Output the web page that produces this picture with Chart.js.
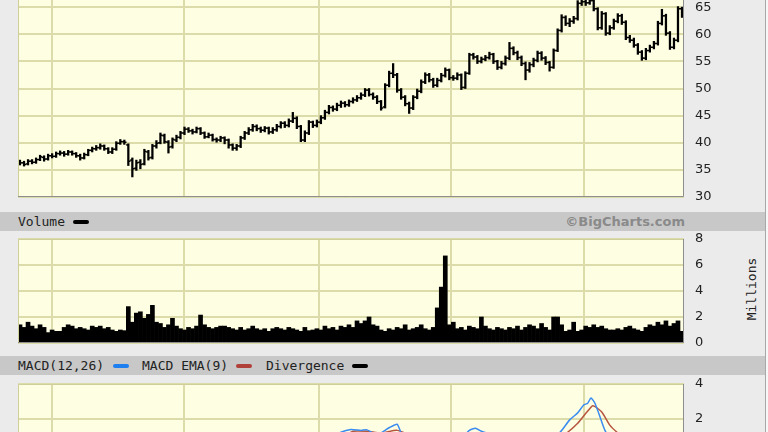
<!DOCTYPE html>
<html>
<head>
<meta charset="utf-8">
<script src="https://cdn.jsdelivr.net/npm/chart.js@4.4.1/dist/chart.umd.min.js"></script>
<style>
  html, body { margin: 0; padding: 0; }
  body { width: 768px; height: 432px; overflow: hidden; position: relative; background: #ebebeb;
         font-family: "DejaVu Sans Mono", monospace; font-size: 13px; color: #222; }
  canvas { position: absolute; left: 0; }
  .band { position: absolute; left: 0; width: 765px; height: 19px; background: #c8c8c8; }
  .lbl { position: absolute; line-height: 19px; white-space: nowrap; }
  .sw { position: absolute; width: 16px; height: 4px; border-radius: 2px; }
  #edge { position: absolute; left: 765px; top: 0; width: 1px; height: 432px; background: #a8a8a8; }
  #edge2 { position: absolute; left: 766px; top: 0; width: 2px; height: 432px; background: #f7f7f7; }
  #brand { position: absolute; right: 83px; top: 212px; line-height: 19px; font-family: "DejaVu Sans", sans-serif;
           font-weight: bold; color: #8a8a8a; }
  #millions { position: absolute; left: 712px; top: 280px; width: 80px; text-align: center;
              transform: rotate(-90deg); line-height: 18px; }
</style>
</head>
<body>
<div class="band" style="top:212px"></div>
<div class="lbl" style="left:18px;top:212px">Volume</div>
<div class="sw" style="left:73px;top:220px;background:#000"></div>
<div id="brand">©BigCharts.com</div>

<div class="band" style="top:356px"></div>
<div class="lbl" style="left:18px;top:356px">MACD(12,26)</div>
<div class="sw" style="left:113px;top:364px;background:#1e7ff0"></div>
<div class="lbl" style="left:142px;top:356px">MACD EMA(9)</div>
<div class="sw" style="left:236px;top:364px;background:#b0403a"></div>
<div class="lbl" style="left:266px;top:356px">Divergence</div>
<div class="sw" style="left:352px;top:364px;background:#000"></div>

<div id="millions">Millions</div>
<div id="edge"></div><div id="edge2"></div>

<canvas id="priceChart" width="768" height="257" style="top:-40px"></canvas>
<canvas id="volChart" width="768" height="144" style="top:219px"></canvas>
<canvas id="macdChart" width="768" height="180" style="top:364px"></canvas>

<script>
// daily OHLC
const open = [
  36.5,36.3,36.1,36.6,36.4,36.9,37.3,37.0,37.6,37.5,
  38.0,38.1,37.9,38.3,38.0,37.6,37.2,37.8,38.6,38.9,
  39.1,39.4,38.9,38.3,38.8,39.9,40.2,39.6,36.8,35.3,
  36.4,36.1,38.3,37.3,39.4,40.0,41.3,40.1,39.3,40.5,
  41.0,41.8,42.5,42.2,42.0,42.6,41.8,41.1,41.4,40.6,
  40.5,40.9,40.5,39.6,39.0,39.4,40.9,41.8,42.4,43.0,
  42.6,42.3,42.7,42.0,42.4,43.0,43.6,43.2,44.0,44.5,
  43.0,40.5,41.8,43.8,43.2,43.8,44.6,45.6,46.5,46.2,
  46.9,47.3,47.0,47.6,47.9,48.3,48.8,49.7,48.9,48.4,
  47.6,46.6,50.6,52.8,52.5,49.7,48.4,47.2,46.4,48.4,
  49.5,51.2,52.5,51.6,50.6,51.5,52.4,53.4,52.0,51.9,
  52.5,50.2,52.8,56.2,55.8,55.0,55.4,55.7,56.3,55.0,
  53.9,54.6,55.6,57.4,56.6,55.7,54.6,53.4,54.4,55.2,
  56.5,55.6,54.8,53.9,57.0,60.7,63.1,62.0,62.4,62.9,
  65.7,66.0,65.8,66.2,64.7,61.2,63.8,60.2,61.2,62.4,
  63.4,62.2,59.4,58.9,58.0,56.7,55.6,57.0,57.6,58.3,
  62.0,63.4,60.2,57.6,58.9,64.7
];
const high = [
  36.8,36.6,36.9,36.9,37.2,37.7,37.6,37.9,38.0,38.3,
  38.5,38.4,38.6,38.5,38.2,37.9,38.1,38.8,39.2,39.5,
  39.8,39.6,39.1,39.1,40.2,40.6,40.5,39.8,37.2,36.8,
  36.9,38.8,38.6,39.7,40.4,41.8,41.6,40.4,40.9,41.4,
  42.1,42.9,42.8,42.5,42.9,42.8,42.0,41.8,41.6,40.9,
  41.2,41.1,40.7,39.8,39.7,41.2,42.1,42.8,43.4,43.3,
  42.9,43.0,42.9,42.8,43.4,43.9,43.9,44.4,45.6,44.8,
  43.2,42.2,44.1,44.0,44.2,45.0,46.0,46.9,46.8,47.3,
  47.7,47.6,47.9,48.3,48.7,49.2,50.0,50.0,49.2,48.7,
  47.8,50.9,53.2,54.6,52.8,50.0,48.7,47.5,48.7,49.9,
  51.6,52.9,52.8,51.9,51.9,52.8,53.8,53.6,52.4,52.9,
  52.7,53.1,56.5,56.5,56.1,55.8,56.1,56.7,56.5,55.2,
  55.0,56.0,58.5,57.7,56.9,56.0,54.9,54.8,55.6,56.9,
  56.8,55.9,55.0,57.3,61.0,63.6,63.4,62.9,63.3,66.2,
  66.8,66.6,66.9,66.5,64.9,64.2,64.0,61.6,62.8,63.8,
  63.7,62.5,59.8,59.3,58.3,57.0,57.4,58.0,58.7,62.4,
  64.6,63.7,60.5,59.3,65.1,65.0
];
const low = [
  35.9,35.7,35.9,36.1,36.2,36.7,36.6,36.8,37.2,37.3,
  37.7,37.5,37.7,37.7,37.3,36.8,37.0,37.6,38.3,38.6,
  38.8,38.6,38.0,38.0,38.6,39.7,39.7,35.8,33.7,34.9,
  35.2,35.9,36.8,37.0,39.0,39.8,39.9,38.1,39.0,40.2,
  40.7,41.5,41.9,41.6,41.8,41.5,40.8,40.9,40.3,40.1,
  40.2,39.8,39.0,38.6,38.6,39.1,40.6,41.5,42.1,42.2,
  41.9,42.0,41.6,41.7,42.1,42.7,42.8,42.9,43.7,42.6,
  40.2,40.2,41.5,42.8,42.9,43.5,44.3,45.3,45.8,45.9,
  46.5,46.6,46.7,47.3,47.6,48.0,48.5,48.6,48.0,47.2,
  46.0,46.4,50.3,52.0,49.3,48.0,46.8,45.4,46.1,48.1,
  49.2,50.9,51.2,50.2,50.3,51.2,52.1,51.6,51.5,51.6,
  49.8,50.0,52.6,55.4,54.6,54.7,55.1,55.4,54.6,53.5,
  53.6,54.3,55.3,56.2,55.3,54.2,51.6,53.0,54.0,54.9,
  55.2,54.4,53.2,53.7,56.8,60.4,61.6,61.4,62.0,62.6,
  65.3,65.3,65.5,64.3,60.8,60.9,59.8,59.9,60.9,62.1,
  61.8,59.0,58.5,57.6,56.3,55.2,55.3,56.7,57.3,58.0,
  61.7,59.8,57.2,57.3,58.6,63.1
];
const close = [
  36.3,36.0,36.6,36.4,36.9,37.4,37.0,37.6,37.5,38.0,
  38.1,37.9,38.3,38.0,37.6,37.2,37.8,38.6,38.9,39.1,
  39.4,38.9,38.3,38.8,39.9,40.2,40.1,36.6,35.2,36.3,
  36.0,38.4,37.2,39.4,39.9,41.4,40.2,39.2,40.6,41.0,
  41.8,42.5,42.2,42.0,42.6,41.8,41.1,41.4,40.6,40.5,
  40.9,40.5,39.6,39.0,39.4,40.9,41.8,42.4,43.0,42.6,
  42.3,42.7,42.0,42.4,43.0,43.6,43.2,44.0,44.5,43.0,
  40.5,41.8,43.8,43.2,43.8,44.6,45.6,46.5,46.2,46.9,
  47.3,47.0,47.6,47.9,48.3,48.8,49.7,48.9,48.4,47.6,
  46.4,50.6,52.8,52.5,49.7,48.4,47.2,46.4,48.4,49.5,
  51.2,52.5,51.6,50.6,51.5,52.4,53.4,52.0,51.9,52.5,
  50.2,52.8,56.2,55.8,55.0,55.4,55.7,56.3,55.0,53.9,
  54.6,55.6,57.4,56.6,55.7,54.6,53.4,54.4,55.2,56.5,
  55.6,54.8,53.9,57.0,60.7,63.1,62.0,62.4,62.9,65.7,
  66.0,65.8,66.2,64.7,61.2,63.8,60.2,61.2,62.4,63.4,
  62.2,59.4,58.9,58.0,56.7,55.6,57.0,57.6,58.3,62.0,
  63.4,60.2,57.6,58.9,64.7,63.4
];
// volume in millions
const volume = [
  1.4,1.2,1.6,1.3,1.1,1.4,1.2,0.8,1.0,0.9,
  0.9,1.2,1.4,1.3,1.1,1.2,1.1,1.0,1.3,1.2,
  1.3,1.1,1.2,1.0,0.9,1.0,0.95,2.8,1.6,2.3,
  2.4,1.9,2.2,2.9,1.6,1.5,1.2,1.4,1.9,1.3,
  1.1,1.0,1.2,1.1,1.3,2.15,1.4,1.2,1.1,1.2,
  1.3,1.3,1.2,1.1,1.0,1.2,1.0,1.1,1.3,1.1,
  1.0,1.1,0.9,1.1,1.2,1.1,1.0,1.2,1.1,1.0,
  0.9,1.2,0.95,1.0,1.1,1.0,1.3,1.1,1.2,1.0,
  1.3,1.2,1.4,1.2,1.7,1.5,1.7,2.0,1.4,1.3,
  1.0,0.9,1.1,1.0,1.2,1.1,1.4,1.0,1.1,1.2,
  1.4,1.1,1.0,1.2,2.7,4.3,6.7,1.4,1.6,1.1,
  1.2,1.0,1.3,1.2,1.1,2.0,1.3,1.1,1.0,1.2,
  1.1,1.0,1.2,1.1,1.3,1.0,1.2,1.4,1.3,1.1,
  1.5,1.2,1.0,2.0,2.0,1.4,0.9,1.0,1.6,0.9,
  1.0,1.3,1.2,1.4,1.2,1.3,1.1,1.0,1.0,1.1,
  1.0,1.2,1.3,1.1,1.0,0.9,1.2,1.4,1.3,1.6,
  1.4,1.7,1.3,1.5,1.7,0.9
];
// MACD lines (only the top of the panel is in the picture)
const macdDays = [0,10,20,27,35,45,55,65,70,75,80,82.5,85,86.5,89,92,94,95,97,100,105,110,112,113.5,115,117,120,125,130,134.6,137,139,140.5,141.5,142.3,143.3,144.6,145.8,148,152,156,160,165];
const macdLine = [0.3,0.5,0.8,0.3,0.2,0.6,-0.2,0.6,0.1,0.6,1.24,1.4,1.35,1.38,1.1,1.5,1.7,1.2,0.6,0.5,0.9,0.9,1.35,1.47,1.3,1.15,0.8,0.4,0.5,1.24,1.95,2.35,2.8,2.9,3.2,2.9,2.1,1.35,0.5,-0.2,-0.5,0.0,0.3];
const signalDays = [0,10,20,27,35,45,55,65,70,75,80,83,86.5,90,94,97,100,105,110,113,117,120,125,130,134,136.5,139,141.3,142.8,145,147,148.8,152,156,160,165];
const signalLine = [0.3,0.4,0.6,0.5,0.3,0.4,0.2,0.3,0.3,0.5,0.9,1.3,1.3,1.2,1.35,1.1,0.8,0.8,0.9,1.1,1.1,1.0,0.6,0.5,0.8,1.24,1.76,2.4,2.76,2.4,1.65,1.24,0.6,0.1,-0.1,0.0];

// vertical grid lines (day positions of the period marks)
const gridDays = [8, 40.9, 74.5, 107.4, 140.6];

const gridColor = '#dcdcaa';
Chart.defaults.font.family = 'DejaVu Sans';
Chart.defaults.font.size = 13;
Chart.defaults.color = '#222';

// pale plot background + inset frame
const panelFrame = {
  id: 'panelFrame',
  beforeDraw(chart) {
    const { ctx, chartArea: a } = chart;
    ctx.save();
    ctx.fillStyle = '#fefee2';
    ctx.fillRect(a.left, a.top, a.right - a.left, a.bottom - a.top);
    ctx.restore();
  },
  afterDraw(chart) {
    const { ctx, chartArea: a } = chart;
    ctx.save();
    ctx.lineWidth = 1;
    ctx.strokeStyle = '#cfcf9c';
    ctx.beginPath();
    ctx.moveTo(a.left + 0.5, a.bottom);
    ctx.lineTo(a.left + 0.5, a.top + 0.5);
    ctx.lineTo(a.right, a.top + 0.5);
    ctx.stroke();
    ctx.strokeStyle = '#8e8e8e';
    ctx.beginPath();
    ctx.moveTo(a.left, a.bottom - 0.5);
    ctx.lineTo(a.right - 0.5, a.bottom - 0.5);
    ctx.lineTo(a.right - 0.5, a.top);
    ctx.stroke();
    ctx.restore();
  }
};

function xAxis() {
  return {
    type: 'linear',
    min: -0.5,
    max: close.length - 0.5,
    offset: false,
    afterBuildTicks: s => { s.ticks = gridDays.map(v => ({ value: v })); },
    ticks: { display: false },
    grid: { color: gridColor, lineWidth: 2, drawTicks: false, offset: false },
    border: { display: false },
    afterFit: s => { s.height = 0; }
  };
}

function yAxis(min, max, step) {
  return {
    position: 'right',
    min: min,
    max: max,
    ticks: { stepSize: step, padding: 11 },
    grid: { color: gridColor, lineWidth: 2, drawTicks: false },
    border: { display: false },
    afterFit: s => { s.width = 84; }
  };
}

const common = {
  responsive: false,
  animation: false,
  events: [],
  layout: { padding: { left: 18, right: 0, top: 20, bottom: 20 } },
  plugins: { legend: { display: false }, tooltip: { enabled: false } }
};

const days = close.map((c, i) => i);

new Chart(document.getElementById('priceChart'), {
  type: 'bar',
  data: {
    datasets: [
      {
        data: days.map(i => ({ x: i, y: [low[i], high[i]] })),
        backgroundColor: '#000',
        barThickness: 1.6
      },
      {
        type: 'line',
        data: days.map(i => ({ x: i, y: open[i] })),
        showLine: false,
        pointStyle: 'dash',
        rotation: 180,
        pointRadius: 2.2,
        pointBorderWidth: 1.5,
        pointBorderColor: '#000'
      },
      {
        type: 'line',
        data: days.map(i => ({ x: i, y: close[i] })),
        showLine: false,
        pointStyle: 'dash',
        pointRadius: 2.2,
        pointBorderWidth: 1.5,
        pointBorderColor: '#000'
      }
    ]
  },
  options: { ...common, scales: { x: xAxis(), y: yAxis(30, 70, 5) } },
  plugins: [panelFrame]
});

new Chart(document.getElementById('volChart'), {
  type: 'bar',
  data: {
    datasets: [{
      data: days.map(i => ({ x: i, y: volume[i] })),
      backgroundColor: '#000',
      barPercentage: 1,
      categoryPercentage: 1
    }]
  },
  options: { ...common, scales: { x: xAxis(), y: yAxis(0, 8, 2) } },
  plugins: [panelFrame]
});

new Chart(document.getElementById('macdChart'), {
  type: 'line',
  data: {
    datasets: [
      {
        label: 'MACD(12,26)',
        data: macdDays.map((d, k) => ({ x: d, y: macdLine[k] })),
        borderColor: '#3a8cf0',
        borderWidth: 1.5,
        pointRadius: 0,
        tension: 0.2
      },
      {
        label: 'MACD EMA(9)',
        data: signalDays.map((d, k) => ({ x: d, y: signalLine[k] })),
        borderColor: '#b5553f',
        borderWidth: 1.5,
        pointRadius: 0,
        tension: 0.2
      }
    ]
  },
  options: { ...common, scales: { x: xAxis(), y: yAxis(-4, 4, 2) } },
  plugins: [panelFrame]
});
</script>
</body>
</html>
